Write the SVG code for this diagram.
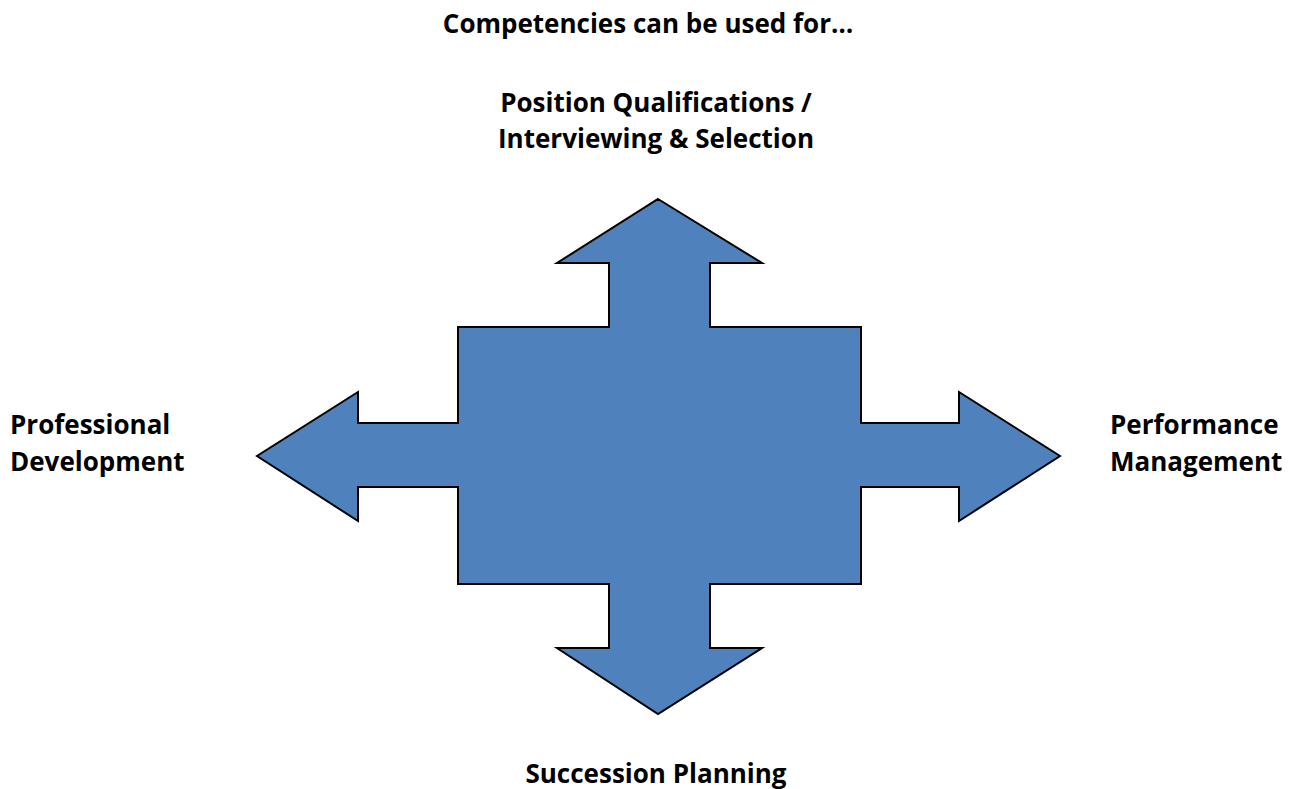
<svg xmlns="http://www.w3.org/2000/svg" width="1298" height="789" viewBox="0 0 1298 789">
  <style>
    .lbl { font-family: "Open Sans", "Liberation Sans", sans-serif; font-weight: 700; font-size: 26px; fill: #000; }
    .mid { text-anchor: middle; }
    .shape { fill: #4F81BD; stroke: #000; stroke-width: 2; stroke-linejoin: miter; }
  </style>
  <rect width="1298" height="789" fill="#fff"/>

  <g id="title">
    <text class="lbl mid" x="648" y="33">Competencies can be used for…</text>
  </g>

  <!-- four-way arrow -->
  <g id="cross-arrow">
    <path class="shape" d="M658,199 L762,263 L710,263 L710,327 L861,327 L861,423 L959,423 L959,392 L1060,456 L959,521 L959,487 L861,487 L861,584 L710,584 L710,648 L762,648 L658,714 L557,648 L609,648 L609,584 L458,584 L458,487 L358,487 L358,521 L257,456 L358,392 L358,423 L458,423 L458,327 L609,327 L609,263 L557,263 Z"/>
  </g>

  <g id="label-top">
    <text class="lbl mid" x="656" y="112">Position Qualifications /</text>
    <text class="lbl mid" x="656" y="148">Interviewing &amp; Selection</text>
  </g>
  <g id="label-left">
    <text class="lbl" x="10" y="434">Professional</text>
    <text class="lbl" x="10" y="471">Development</text>
  </g>
  <g id="label-right">
    <text class="lbl" x="1110" y="434">Performance</text>
    <text class="lbl" x="1110" y="471">Management</text>
  </g>
  <g id="label-bottom">
    <text class="lbl mid" x="656" y="783">Succession Planning</text>
  </g>
</svg>
